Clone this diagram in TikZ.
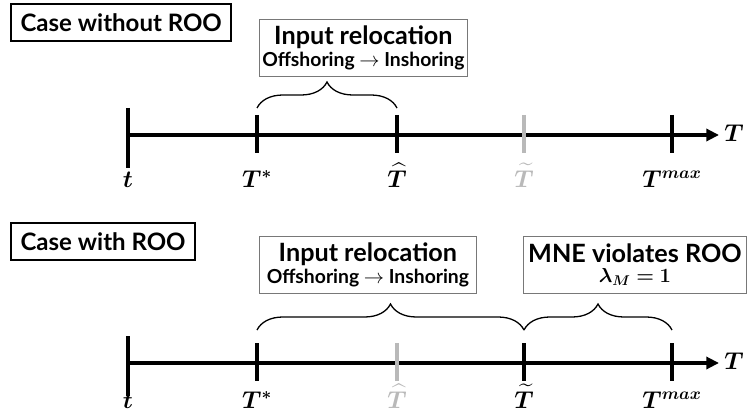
\documentclass[tikz,border=0pt]{standalone}
\usepackage{amsmath,bm}
\usepackage{fontspec}
\setsansfont{Lato}
\usetikzlibrary{positioning, arrows.meta, decorations.pathreplacing}
\definecolor{TickGrey}{RGB}{185,185,185}
\definecolor{BoxGrey}{RGB}{120,120,120}

\begin{document}
\begin{tikzpicture}[
    x=0.03cm, y=-0.03cm,
    case/.style = {draw=black, line width=2pt, anchor=north west, minimum height=1.1cm, inner xsep=8pt, font=\sffamily\bfseries\fontsize{20.5}{23}\selectfont},
    phase/.style = {draw=BoxGrey, line width=0.7pt, anchor=north west, align=center, minimum height=1.71cm, inner sep=2pt, font=\sffamily},
    axis/.style = {line width=3pt, -{Triangle[length=0.38cm, width=0.36cm]}},
    tk/.style = {line width=3pt},
    faded/.style = {tk, draw=TickGrey},
    lab/.style = {anchor=base, font=\fontsize{20}{22}\selectfont},
    brc/.style = {decorate, decoration={brace, amplitude=0.78cm}, line width=1.1pt}
]
\useasboundingbox (0,0) rectangle (747,419);

% Case without ROO
\node[case] (caseA) at (10,3) {Case without ROO};
\node[phase, minimum width=6.24cm] (relocA) at (259,19)
    {{\bfseries\fontsize{21.5}{24}\selectfont Input relocation}\\[2pt]
     {\bfseries\fontsize{16.5}{18}\selectfont Offshoring $\to$ Inshoring}};
\coordinate (tA) at (128,135);
\coordinate (sA) at (257,135);
\coordinate (hA) at (397,135);
\coordinate (wA) at (524,135);
\coordinate (mA) at (672,135);
\coordinate (endA) at (719,135);
\draw[axis] (tA) -- (endA);
\draw[tk] ([yshift=0.81cm]tA) -- ([yshift=-0.99cm]tA);
\draw[tk] ([yshift=0.6cm]sA) -- ([yshift=-0.55cm]sA);
\draw[tk] ([yshift=0.6cm]hA) -- ([yshift=-0.55cm]hA);
\draw[faded] ([yshift=0.6cm]wA) -- ([yshift=-0.55cm]wA);
\draw[tk] ([yshift=0.6cm]mA) -- ([yshift=-0.55cm]mA);
\node[anchor=west, font=\fontsize{20}{22}\selectfont, inner sep=1pt] (TA) at (723,133) {$\bm{T}$};
\node[lab] (ltA) at (128,187) {$\bm{t}$};
\node[lab] (lsA) at (257,187) {$\bm{T^{*}}$};
\node[lab] (lhA) at (397,187) {$\bm{\widehat{T}}$};
\node[lab, text=TickGrey] (lwA) at (524,187) {$\bm{\widetilde{T}}$};
\node[lab] (lmA) at (672,187) {$\bm{T^{max}}$};
\draw[brc] (257,108) -- (397,108);

% Case with ROO
\node[case] (caseB) at (10,222) {Case with ROO};
\node[phase, minimum width=6.51cm] (relocB) at (259,236)
    {{\bfseries\fontsize{21.5}{24}\selectfont Input relocation}\\[2pt]
     {\bfseries\fontsize{16.5}{18}\selectfont Offshoring $\to$ Inshoring}};
\node[phase, minimum width=6.69cm] (violB) at (523,236)
    {{\bfseries\fontsize{21.5}{24}\selectfont MNE violates ROO}\\[4pt]
     {\fontsize{16.5}{18}\selectfont $\bm{\lambda_M = 1}$}};
\coordinate (tB) at (128,363);
\coordinate (sB) at (257,363);
\coordinate (hB) at (397,363);
\coordinate (wB) at (524,363);
\coordinate (mB) at (672,363);
\coordinate (endB) at (719,363);
\draw[axis] (tB) -- (endB);
\draw[tk] ([yshift=0.81cm]tB) -- ([yshift=-0.99cm]tB);
\draw[tk] ([yshift=0.6cm]sB) -- ([yshift=-0.55cm]sB);
\draw[faded] ([yshift=0.6cm]hB) -- ([yshift=-0.55cm]hB);
\draw[tk] ([yshift=0.6cm]wB) -- ([yshift=-0.55cm]wB);
\draw[tk] ([yshift=0.6cm]mB) -- ([yshift=-0.55cm]mB);
\node[anchor=west, font=\fontsize{20}{22}\selectfont, inner sep=1pt] (TB) at (723,361) {$\bm{T}$};
\node[lab] (ltB) at (128,408) {$\bm{t}$};
\node[lab] (lsB) at (257,408) {$\bm{T^{*}}$};
\node[lab, text=TickGrey] (lhB) at (397,408) {$\bm{\widehat{T}}$};
\node[lab] (lwB) at (524,408) {$\bm{\widetilde{T}}$};
\node[lab] (lmB) at (672,408) {$\bm{T^{max}}$};
\draw[brc] (257,330) -- (524,330);
\draw[brc] (524,330) -- (672,330);
\end{tikzpicture}
\end{document}
